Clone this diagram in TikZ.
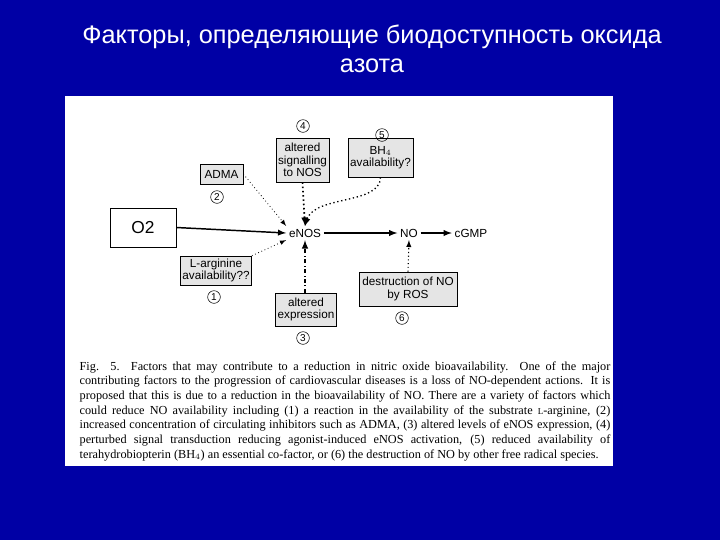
\documentclass[tikz,border=0pt]{standalone}
\usepackage{fontspec}
\setmainfont{Liberation Serif}
\newfontfamily\arial{Liberation Sans}
\begin{document}
\begin{tikzpicture}[x=0.75pt,y=-0.75pt,
 bx/.style={draw=black,fill=black!10,font=\arial\fontsize{8.8}{9.3}\selectfont,align=center,inner sep=1.5pt,line width=0.5pt},
 num/.style={circle,draw=black,inner sep=0.6pt,minimum size=9.5pt,font=\arial\fontsize{7.5}{7.5}\selectfont},
 lab/.style={font=\arial\fontsize{8.8}{9}\selectfont},
 sol/.style={-latex,line width=1.1pt},
 dot/.style={-latex,dotted,line width=0.8pt}]
\fill[fill={rgb,255:red,0;green,0;blue,165}] (0,0) rectangle (720,540);
\fill[white] (65,96) rectangle (613,466);
\node[text=white,font=\arial\fontsize{19}{21.5}\selectfont,align=center] (title) at (372,49) {Факторы, определяющие биодоступность оксида\\азота};
\node[bx,minimum width=43*0.75pt,minimum height=20*0.75pt] (adma) at (221.5,174) {ADMA};
\node[bx,minimum width=51*0.75pt,minimum height=44*0.75pt] (sig) at (302.5,160) {altered\\signalling\\to NOS};
\node[bx,minimum width=61*0.75pt,minimum height=39*0.75pt] (bh) at (380.5,157.5) {BH$_4$\\availability?};
\node[draw=black,fill=white,minimum width=66*0.75pt,minimum height=39*0.75pt,font=\arial\fontsize{13}{13}\selectfont,line width=0.5pt] (o2) at (143,227.5) {O2};
\node[bx,minimum width=70*0.75pt,minimum height=29*0.75pt] (larg) at (216,270.5) {L-arginine\\availability??};
\node[bx,minimum width=58*0.75pt,minimum height=33*0.75pt] (expr) at (306,309.5) {altered\\expression};
\node[bx,minimum width=98*0.75pt,minimum height=34*0.75pt] (dest) at (408,289) {destruction of NO\\by ROS};
\node[num] (n4) at (303,126) {4};
\node[num] (n5) at (382,135) {5};
\node[num] (n2) at (217,197) {2};
\node[num] (n1) at (214,297) {1};
\node[num] (n3) at (303,338) {3};
\node[num] (n6) at (402,318) {6};
\node[lab,inner sep=2pt] (enos) at (305,233) {eNOS};
\node[lab,inner sep=2pt] (no) at (409,233) {NO};
\node[lab,inner sep=2pt] (cgmp) at (471,233) {cGMP};
\draw[sol] (o2.east) -- (enos.west);
\draw[sol] (enos) -- (no);
\draw[sol] (no) -- (cgmp);
\draw[dot,line width=0.6pt] (adma.east) -- (enos.north west);
\draw[dot,line width=0.6pt] (larg.north east) -- (enos.south west);
\draw[dot,line width=1.2pt] (sig.south) -- (enos.north);
\draw[dot,line width=1pt] (bh.south) .. controls (380,205) and (315,195) .. (enos.north);
\draw[-latex,dash dot,line width=1.2pt] (expr.north -| enos) -- (enos.south);
\draw[dot] (dest.north) -- (no.south);
\node[text width=398pt,align=justify,inner sep=0pt] (cap) at (345,411) {\fontsize{9.2}{11}\selectfont Fig. 5. Factors that may contribute to a reduction in nitric oxide bioavailability. One of the major\linebreak contributing factors to the progression of cardiovascular diseases is a loss of NO-dependent actions. It is\linebreak proposed that this is due to a reduction in the bioavailability of NO. There are a variety of factors which\linebreak could reduce NO availability including (1) a reaction in the availability of the substrate {\fontsize{6.8}{11}\selectfont L}-arginine, (2)\linebreak increased concentration of circulating inhibitors such as ADMA, (3) altered levels of eNOS expression, (4)\linebreak perturbed signal transduction reducing agonist-induced eNOS activation, (5) reduced availability of\linebreak terahydrobiopterin (BH$_4$) an essential co-factor, or (6) the destruction of NO by other free radical species.\par};
\end{tikzpicture}
\end{document}
